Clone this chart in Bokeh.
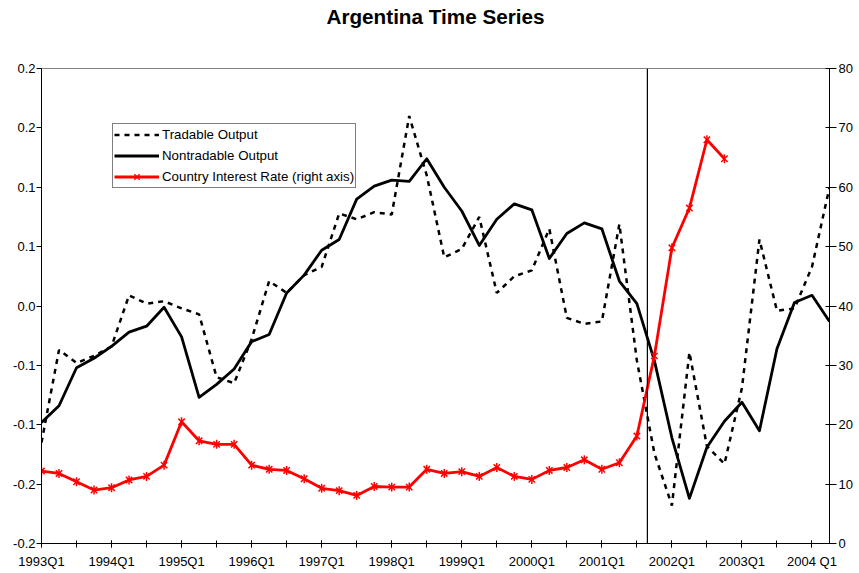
import numpy as np
from bokeh.plotting import figure
from bokeh.models import (Range1d, LinearAxis, FixedTicker, CustomJSTickFormatter,
                          Span, Legend, LegendItem, Title)
from bokeh.embed import file_html
from bokeh.resources import INLINE

# ---------------- data ----------------
chart_title = "Argentina Time Series"
quarter_labels = ["1993Q1", "1994Q1", "1995Q1", "1996Q1", "1997Q1", "1998Q1",
                  "1999Q1", "2000Q1", "2001Q1", "2002Q1", "2003Q1", "2004 Q1"]
n_quarters = 46  # 1993Q1 .. 2004Q2

tradable = [-0.115, -0.037, -0.048, -0.042, -0.034, 0.009, 0.002, 0.004, -0.002, -0.007,
            -0.060, -0.065, -0.028, 0.021, 0.011, 0.026, 0.033, 0.078, 0.073, 0.079,
            0.077, 0.160, 0.110, 0.041, 0.048, 0.075, 0.011, 0.025, 0.030, 0.065,
            -0.010, -0.015, -0.013, 0.069, -0.046, -0.124, -0.168, -0.039, -0.118, -0.133,
            -0.069, 0.056, -0.004, -0.002, 0.033, 0.100]

nontradable = [-0.098, -0.084, -0.052, -0.044, -0.034, -0.022, -0.017, -0.001, -0.026, -0.077,
               -0.066, -0.053, -0.030, -0.024, 0.011, 0.026, 0.047, 0.056, 0.090, 0.101,
               0.106, 0.105, 0.124, 0.100, 0.080, 0.051, 0.073, 0.086, 0.081, 0.040,
               0.061, 0.070, 0.065, 0.021, 0.002, -0.046, -0.111, -0.162, -0.119, -0.097,
               -0.081, -0.105, -0.036, 0.003, 0.009, -0.013]

interest = [12.2, 11.8, 10.4, 9.0, 9.4, 10.7, 11.3, 13.2, 20.5, 17.3,
            16.7, 16.7, 13.2, 12.5, 12.3, 10.9, 9.3, 8.9, 8.1, 9.6,
            9.5, 9.5, 12.5, 11.8, 12.1, 11.3, 12.8, 11.3, 10.8, 12.3,
            12.8, 14.1, 12.5, 13.6, 18.1, 31.6, 49.8, 56.5, 68.0, 64.8]

left_ticks = [-0.2, -0.15, -0.1, -0.05, 0.0, 0.05, 0.1, 0.15, 0.2]
left_tick_labels = ["-0.2", "-0.2", "-0.1", "-0.1", "0.0", "0.1", "0.1", "0.2", "0.2"]
right_ticks = [0, 10, 20, 30, 40, 50, 60, 70, 80]
crisis_position = 34.6  # quarter index of the vertical marker line

FONT = "Liberation Sans"

# ---------------- figure ----------------
x_all = np.arange(n_quarters)
x_int = np.arange(len(interest))

p = figure(width=859, height=573, output_backend="svg", toolbar_location=None, title=None,
           x_range=Range1d(0, n_quarters - 1), y_range=Range1d(-0.2, 0.2),
           min_border_left=41, min_border_right=30, min_border_top=68, min_border_bottom=30)
p.extra_y_ranges = {"right": Range1d(0, 80)}

p.xgrid.visible = False
p.ygrid.visible = False
p.outline_line_color = "#808080"
p.outline_line_width = 1
p.background_fill_color = "white"
p.border_fill_color = "white"

# title: a thin spacer panel next to the frame, then the real title above it
p.add_layout(Title(text=" ", text_font_size="1px", standoff=37), "above")
p.add_layout(Title(text=chart_title, align="center", offset=7, standoff=2,
                   text_font=FONT, text_font_size="20.7px", text_font_style="bold",
                   text_color="black"), "above")

# x axis
xa = p.xaxis[0]
xa.ticker = FixedTicker(ticks=list(range(0, n_quarters, 4)),
                        minor_ticks=list(range(0, n_quarters - 1, 2)))
xa.major_label_overrides = {i * 4: lab for i, lab in enumerate(quarter_labels)}
xa.major_tick_in = 3
xa.major_tick_out = 4
xa.minor_tick_in = 3
xa.minor_tick_out = 4
xa.axis_line_color = "black"
xa.major_tick_line_color = "black"
xa.minor_tick_line_color = "black"
xa.major_label_text_font = FONT
xa.major_label_text_font_size = "13px"
xa.major_label_text_color = "black"
xa.major_label_standoff = 6

# left axis
ya = p.yaxis[0]
ya.ticker = FixedTicker(ticks=left_ticks)
ya.formatter = CustomJSTickFormatter(args=dict(tick_values=left_ticks, tick_texts=left_tick_labels), code="""
let best = 0, d = 1e9;
for (let i = 0; i < tick_values.length; i++) {
  const e = Math.abs(tick_values[i] - tick);
  if (e < d) { d = e; best = i; }
}
return tick_texts[best];
""")
ya.major_tick_in = 0
ya.major_tick_out = 5
ya.minor_tick_line_color = None
ya.axis_line_color = "black"
ya.major_tick_line_color = "black"
ya.major_label_text_font = FONT
ya.major_label_text_font_size = "13px"
ya.major_label_text_color = "black"
ya.major_label_standoff = 1

# right axis
ra = LinearAxis(y_range_name="right", ticker=FixedTicker(ticks=right_ticks))
ra.major_tick_in = 4
ra.major_tick_out = 7
ra.minor_tick_line_color = None
ra.axis_line_color = "black"
ra.major_tick_line_color = "black"
ra.major_label_text_font = FONT
ra.major_label_text_font_size = "13px"
ra.major_label_text_color = "black"
ra.major_label_standoff = 2
p.add_layout(ra, "right")

# ---------------- series ----------------
r_trad = p.line(x_all, tradable, line_color="black", line_width=2.5, line_dash="5 5")
r_non = p.line(x_all, nontradable, line_color="black", line_width=2.8, line_join="round")
r_int = p.line(x_int, interest, line_color="#FF0000", line_width=2.8, line_join="round",
               y_range_name="right")
r_mx = p.scatter(x_int, interest, marker="x", size=9, line_color="#FF0000", line_width=1.5,
                 y_range_name="right")
r_mv = p.scatter(x_int, interest, marker="dash", angle=np.pi / 2, size=9, line_color="#FF0000",
                 line_width=1.5, y_range_name="right")

p.add_layout(Span(location=crisis_position, dimension="height", line_color="black", line_width=1.2))

legend = Legend(items=[
    LegendItem(label="Tradable Output", renderers=[r_trad]),
    LegendItem(label="Nontradable Output", renderers=[r_non]),
    LegendItem(label="Country Interest Rate (right axis)", renderers=[r_int, r_mx, r_mv]),
], location=(71, 355))
legend.border_line_color = "black"
legend.border_line_width = 1
legend.background_fill_color = "white"
legend.background_fill_alpha = 1.0
legend.label_text_font = FONT
legend.label_text_font_size = "13.3px"
legend.label_text_color = "black"
legend.glyph_width = 45
legend.glyph_height = 19
legend.label_height = 19
legend.spacing = 2
legend.padding = 1
legend.margin = 0
legend.label_standoff = 3
p.add_layout(legend)

open("out.html", "w").write(file_html(p, INLINE))
